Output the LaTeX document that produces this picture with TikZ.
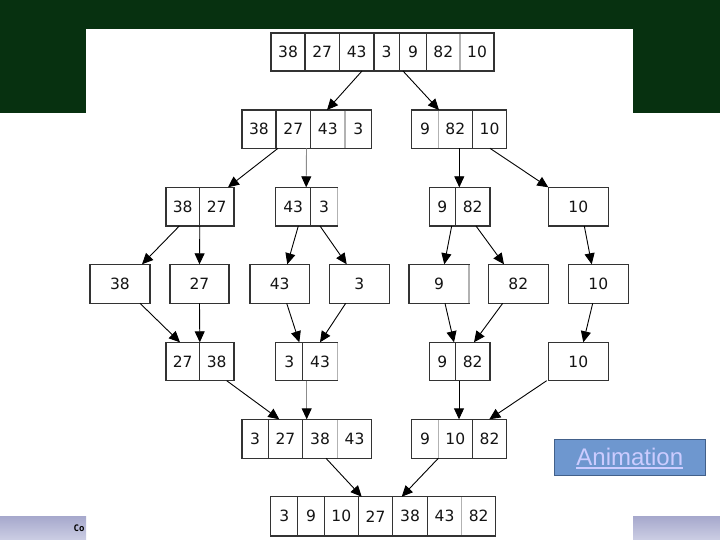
\documentclass[tikz,border=0pt]{standalone}
\usepackage{fontspec}
\setmainfont{DejaVu Sans}
\newfontfamily\arialfont{Liberation Sans}
\newfontfamily\monofont{DejaVu Sans Mono}
\usetikzlibrary{arrows.meta,calc}
\definecolor{hdrgreen}{RGB}{7,49,16}
\definecolor{barTop}{RGB}{166,168,204}
\definecolor{barBot}{RGB}{204,206,228}
\definecolor{btnfill}{RGB}{110,151,207}
\definecolor{btnedge}{RGB}{66,96,138}
\definecolor{btntext}{RGB}{204,204,255}
\definecolor{boxedge}{RGB}{51,51,51}
\definecolor{numtext}{RGB}{20,20,20}
\newcommand\mcell[6]{\node[cell,minimum width={#3-#2},minimum height={#5-#4}] (#1) at ({(#2+#3)/2},{(#4+#5)/2}) {#6};}
\begin{document}
\begin{tikzpicture}[x=1pt,y=-1pt,
  cell/.style={draw=boxedge,line width=1.2pt,inner sep=0pt,outer sep=0pt,font=\fontsize{15.5}{15.5}\selectfont,text=numtext},
  arr/.style={draw=black,line width=0.9pt,-{Triangle[length=11pt,width=10pt]}},
  garr/.style={draw=black!45,line width=0.9pt,-{Triangle[length=11pt,width=10pt,color=black]}},
  lightedge/.style={draw=black!30,line width=1.2pt}]
\useasboundingbox (0,0) rectangle (720,540);
% background
\fill[hdrgreen] (0,0) rectangle (720,113.3);
\fill[white] (86,29) rectangle (633,540);
\shade[top color=barTop,bottom color=barBot] (0,516) rectangle (86,540);
\shade[top color=barTop,bottom color=barBot] (633,516) rectangle (720,540);
\node[font=\monofont\bfseries\fontsize{9}{9}\selectfont,inner sep=0pt] (co) at (79,528.5) {Co};
% button
\node[draw=btnedge,fill=btnfill,line width=0.8pt,minimum width=151.7pt,minimum height=36.4pt,inner sep=0pt] (btn) at (629.8,457.5) {};
\node[font=\arialfont\fontsize{24}{24}\selectfont,text=btntext,inner sep=0pt] (btntxt) at (629.8,456.8) {Animation};
\draw[btntext,line width=1.8pt] ([yshift=-1.8pt]btntxt.south west) -- ([yshift=-1.8pt]btntxt.south east);
% row 1
\mcell{r1a}{271}{305}{33}{71}{38}
\mcell{r1b}{305}{339.3}{33}{71}{27}
\mcell{r1c}{339.3}{374}{33}{71}{43}
\mcell{r1d}{374}{399.3}{33}{71}{3}
\mcell{r1e}{399.3}{426.7}{33}{71}{9}
\mcell{r1f}{426.7}{460}{33}{71}{82}
\mcell{r1g}{460}{494}{33}{71}{10}
% row 2
\mcell{r2a}{242}{276}{110}{148.3}{38}
\mcell{r2b}{276}{310.7}{110}{148.3}{27}
\mcell{r2c}{310.7}{345}{110}{148.3}{43}
\mcell{r2d}{345}{371.7}{110}{148.3}{3}
\mcell{r2e}{411.7}{438.3}{110}{148.3}{9}
\mcell{r2f}{438.3}{472.3}{110}{148.3}{82}
\mcell{r2g}{472.3}{506.7}{110}{148.3}{10}
% row 3
\mcell{r3a}{166}{199.3}{187.3}{226}{38}
\mcell{r3b}{199.3}{234}{187.3}{226}{27}
\mcell{r3c}{275.7}{310.7}{187.3}{226}{43}
\mcell{r3d}{310.7}{337.3}{187.3}{226}{3}
\mcell{r3e}{429.3}{455.3}{187.3}{226}{9}
\mcell{r3f}{455.3}{490}{187.3}{226}{82}
\mcell{r3g}{548.3}{608.3}{187.3}{226}{10}
% row 4
\mcell{r4a}{90}{150}{264.3}{303.3}{38}
\mcell{r4b}{170}{229}{264.3}{303.3}{27}
\mcell{r4c}{250}{309.3}{264.3}{303.3}{43}
\mcell{r4d}{329.3}{389.3}{264.3}{303.3}{3}
\mcell{r4e}{409}{469}{264.3}{303.3}{9}
\mcell{r4f}{488.3}{548.3}{264.3}{303.3}{82}
\mcell{r4g}{568.3}{628.3}{264.3}{303.3}{10}
% row 5
\mcell{r5a}{166}{199.3}{342.3}{380.7}{27}
\mcell{r5b}{199.3}{234}{342.3}{380.7}{38}
\mcell{r5c}{275.7}{302.7}{342.3}{380.7}{3}
\mcell{r5d}{302.7}{337.3}{342.3}{380.7}{43}
\mcell{r5e}{429.3}{455.3}{342.3}{380.7}{9}
\mcell{r5f}{455.3}{490}{342.3}{380.7}{82}
\mcell{r5g}{548.3}{608.3}{342.3}{380.7}{10}
% row 6
\mcell{r6a}{242}{268.3}{419.3}{458.3}{3}
\mcell{r6b}{268.3}{302.7}{419.3}{458.3}{27}
\mcell{r6c}{302.7}{337.3}{419.3}{458.3}{38}
\mcell{r6d}{337.3}{371.7}{419.3}{458.3}{43}
\mcell{r6e}{411.7}{438.3}{419.3}{458.3}{9}
\mcell{r6f}{438.3}{472.3}{419.3}{458.3}{10}
\mcell{r6g}{472.3}{506.7}{419.3}{458.3}{82}
% row 7
\mcell{r7a}{270.7}{297.7}{496.7}{536}{3}
\mcell{r7b}{297.7}{324.3}{496.7}{536}{9}
\mcell{r7c}{324.3}{358.3}{496.7}{536}{10}
\mcell{r7d}{358.3}{392.7}{496.7}{536}{27}
\mcell{r7e}{392.7}{427.3}{496.7}{536}{38}
\mcell{r7f}{427.3}{461.7}{496.7}{536}{43}
\mcell{r7g}{461.7}{495.7}{496.7}{536}{82}
% lighter edges
\draw[lightedge] ([yshift=-0.6pt]r1g.north west) -- ([yshift=0.6pt]r1g.south west);
\draw[lightedge] ([yshift=-0.6pt]r2d.north west) -- ([yshift=0.6pt]r2d.south west);
\draw[lightedge] ([yshift=-0.6pt]r2f.north west) -- ([yshift=0.6pt]r2f.south west);
\draw[lightedge] ([yshift=-0.6pt]r3d.north east) -- ([yshift=0.6pt]r3d.south east);
\draw[lightedge] ([yshift=-0.6pt]r4e.north east) -- ([yshift=0.6pt]r4e.south east);
\draw[lightedge] ([yshift=-0.6pt]r5d.north east) -- ([yshift=0.6pt]r5d.south east);
\draw[lightedge] ([yshift=-0.6pt]r6d.north west) -- ([yshift=0.6pt]r6d.south west);
\draw[lightedge] ([yshift=-0.6pt]r6f.north west) -- ([yshift=0.6pt]r6f.south west);
\draw[lightedge] ([yshift=-0.6pt]r7g.north west) -- ([yshift=0.6pt]r7g.south west);
% arrows
\draw[arr] ([xshift=22.7pt]r1c.south west) -- ([xshift=16.3pt]r2c.north west);
\draw[arr] ([xshift=3.7pt]r1e.south west) -- ([xshift=0.7pt]r2f.north west);
\draw[arr] ([xshift=2pt]r2b.south west) -- ([xshift=28.7pt]r3b.north west);
\draw[garr] ([xshift=30.5pt]r2b.south west) -- ([xshift=30.5pt]r3c.north west);
\draw[arr] ([xshift=21pt]r2f.south west) -- ([xshift=4pt]r3f.north west);
\draw[arr] ([xshift=17.7pt]r2g.south west) -- (r3g.north west);
\draw[arr] ([xshift=13.3pt]r3a.south west) -- ([xshift=52pt]r4a.north west);
\draw[arr] ([xshift=0.5pt]r3a.south east) -- (r4b.north);
\draw[arr] ([xshift=22.6pt]r3c.south west) -- ([xshift=37.3pt]r4c.north west);
\draw[arr] ([xshift=9.3pt]r3d.south west) -- ([xshift=17.4pt]r4d.north west);
\draw[arr] ([xshift=22.4pt]r3e.south west) -- ([xshift=35.3pt]r4e.north west);
\draw[arr] ([xshift=20.7pt]r3f.south west) -- ([xshift=15.7pt]r4f.north west);
\draw[arr] ([xshift=36pt]r3g.south west) -- ([xshift=23.4pt]r4g.north west);
\draw[arr] ([xshift=50pt]r4a.south west) -- ([xshift=14pt]r5a.north west);
\draw[arr] (r4b.south) -- ([xshift=0.5pt]r5a.north east);
\draw[arr] ([xshift=36.7pt]r4c.south west) -- ([xshift=23.6pt]r5c.north west);
\draw[arr] ([xshift=16.4pt]r4d.south west) -- ([xshift=17.3pt]r5d.north west);
\draw[arr] ([xshift=36pt]r4e.south west) -- ([xshift=24.7pt]r5e.north west);
\draw[arr] ([xshift=14.4pt]r4f.south west) -- ([xshift=18.7pt]r5f.north west);
\draw[arr] ([xshift=24.4pt]r4g.south west) -- ([xshift=35pt]r5g.north west);
\draw[arr] ([xshift=27.4pt]r5b.south west) -- ([xshift=11pt]r6b.north west);
\draw[garr] ([xshift=4pt]r5d.south west) -- ([xshift=4pt]r6c.north west);
\draw[arr] ([xshift=3.7pt]r5f.south west) -- ([xshift=20.7pt]r6f.north west);
\draw[arr] ([xshift=-1.6pt]r5g.south west) -- ([xshift=17pt]r6g.north west);
\draw[arr] ([xshift=23.3pt]r6c.south west) -- ([xshift=3.4pt]r7d.north west);
\draw[arr] (r6f.south west) -- ([xshift=9pt]r7e.north west);
\end{tikzpicture}
\end{document}
